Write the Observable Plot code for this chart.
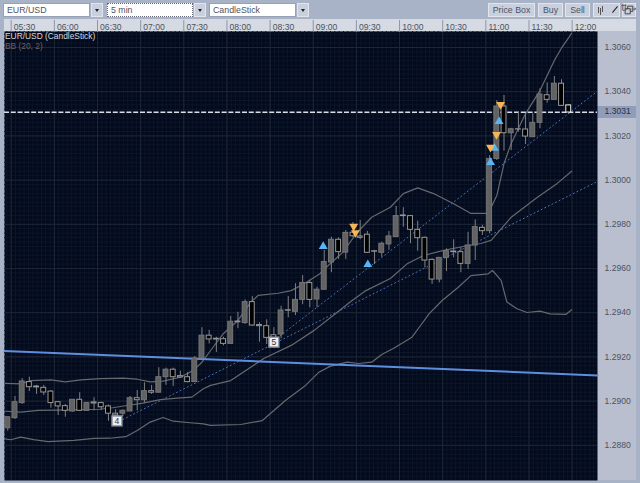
<!DOCTYPE html>
<html>
<head>
<meta charset="utf-8">
<script src="https://cdn.jsdelivr.net/npm/d3@7"></script>
<script src="https://cdn.jsdelivr.net/npm/@observablehq/plot@0.6"></script>
<style>
html,body{margin:0;padding:0;background:#a9b3c7;overflow:hidden}
body{width:640px;height:483px;position:relative;font-family:"Liberation Sans",Arial,sans-serif;font-size:8.8px;color:#4c5462}
.b{position:absolute;box-sizing:border-box;line-height:13px;white-space:nowrap}
.sel{background:#fff;border:1px solid #98a2b6;padding-left:3px;top:3px;height:14px}
.btn{background:#c9cfdc;border:1px solid #e2e5ec;top:3px;height:14px;text-align:center}
.ico{position:absolute;box-sizing:border-box}
#chart{position:absolute;left:0;top:0}
</style>
</head>
<body>
<div class="b" style="left:4px;top:19px;width:632px;height:12px;background:#d6dae3"></div>
<div class="b" style="left:597px;top:31px;width:39px;height:449px;background:#b9bfcf"></div>
<div class="b" style="left:597px;top:106px;width:39px;height:12px;background:#8f9cba"></div>
<div class="b sel" style="left:3px;width:87px">EUR/USD</div><div class="b btn" style="left:91px;width:12px"><div class="ico" style="left:3px;top:5px;border-left:2.5px solid transparent;border-right:2.5px solid transparent;border-top:3px solid #222"></div></div>
<div class="b sel" style="left:107px;width:86px;border:1px dotted #667">5 min</div><div class="b btn" style="left:194px;width:12px"><div class="ico" style="left:3px;top:5px;border-left:2.5px solid transparent;border-right:2.5px solid transparent;border-top:3px solid #222"></div></div>
<div class="b sel" style="left:209px;width:87px">CandleStick</div><div class="b btn" style="left:297px;width:12px"><div class="ico" style="left:3px;top:5px;border-left:2.5px solid transparent;border-right:2.5px solid transparent;border-top:3px solid #222"></div></div>
<div class="b btn" style="left:488px;width:47px">Price Box</div>
<div class="b btn" style="left:538px;width:25px">Buy</div>
<div class="b btn" style="left:565px;width:25px">Sell</div>
<div class="b btn" style="left:593px;width:27px">
  <div class="ico" style="left:4px;top:3px;width:1px;height:6px;background:#555"></div>
  <div class="ico" style="left:6px;top:4px;width:1px;height:7px;background:#555"></div>
  <div class="ico" style="left:8px;top:2px;width:1px;height:6px;background:#555"></div>
  <div class="ico" style="left:19px;top:5px;width:8px;height:1px;margin-left:-2px;background:#222;transform:rotate(-50deg)"></div>
</div>
<svg class="b" style="left:622px;top:3px;background:#c9cfdc;border:1px solid #e2e5ec" width="14" height="14" viewBox="0 0 14 14"><path d="M5.5 6V2.5H11.5V8.5H8.5M2.5 5.5H8.5V11.5H2.5Z" fill="none" stroke="#333" stroke-width="1"/></svg>
<div id="chart"></div>
<div class="b" style="left:5px;top:30px;color:#d8d8d8;font-size:8.4px">EUR/USD (CandleStick)</div>
<div class="b" style="left:5px;top:40px;color:#666;font-size:8.4px">BB (20, 2)</div>
<script>
const tickMinutes = [0,30,60,90,120,150,180,210,240,270,300,330,360,390];
const tickLabels = ["05:30","06:00","06:30","07:00","07:30","08:00","08:30","09:00","09:30","10:00","10:30","11:00","11:30","12:00"];
const priceTicks = [1.306,1.304,1.302,1.3,1.298,1.296,1.294,1.292,1.29,1.288];
const currentPrice = 1.3031;

const open = [1.28877,1.28923,1.28991,1.29086,1.29066,1.29060,1.29043,1.28995,1.28977,1.28953,1.29006,1.28956,1.28994,1.28991,1.28976,1.28943,1.28943,1.28953,1.29013,1.29004,1.29045,1.29038,1.29108,1.29142,1.29113,1.29108,1.29086,1.29193,1.29296,1.29282,1.29280,1.29259,1.29360,1.29353,1.29448,1.29344,1.29339,1.29298,1.29301,1.29411,1.29404,1.29458,1.29534,1.29460,1.29504,1.29627,1.29730,1.29672,1.29762,1.29745,1.29753,1.29678,1.29671,1.29709,1.29742,1.29840,1.29837,1.29775,1.29739,1.29639,1.29550,1.29648,1.29677,1.29674,1.29621,1.29704,1.29784,1.29769,1.30096,1.30333,1.30212,1.30230,1.30229,1.30194,1.30259,1.30384,1.30363,1.30436,1.30338];
const high = [1.28927,1.29021,1.29102,1.29108,1.29071,1.29071,1.29048,1.28998,1.28985,1.29007,1.29038,1.28994,1.29015,1.28995,1.28982,1.28961,1.28961,1.29021,1.29048,1.29083,1.29071,1.29151,1.29149,1.29149,1.29135,1.29129,1.29202,1.29332,1.29320,1.29289,1.29289,1.29383,1.29402,1.29458,1.29473,1.29354,1.29368,1.29332,1.29429,1.29473,1.29531,1.29568,1.29546,1.29515,1.29682,1.29742,1.29739,1.29772,1.29808,1.29817,1.29768,1.29682,1.29719,1.29768,1.29881,1.29875,1.29840,1.29814,1.29742,1.29644,1.29650,1.29689,1.29730,1.29694,1.29764,1.29820,1.29795,1.30111,1.30360,1.30383,1.30234,1.30307,1.30300,1.30300,1.30413,1.30440,1.30469,1.30454,1.30341];
const low = [1.28864,1.28917,1.28985,1.29043,1.29030,1.29025,1.28968,1.28935,1.28927,1.28950,1.28953,1.28953,1.28956,1.28958,1.28909,1.28926,1.28930,1.28953,1.28956,1.28991,1.29030,1.29038,1.29071,1.29066,1.29104,1.29083,1.29086,1.29193,1.29259,1.29220,1.29250,1.29256,1.29327,1.29347,1.29339,1.29267,1.29256,1.29252,1.29282,1.29377,1.29387,1.29436,1.29422,1.29422,1.29504,1.29581,1.29641,1.29641,1.29740,1.29730,1.29669,1.29618,1.29651,1.29682,1.29742,1.29787,1.29712,1.29678,1.29603,1.29528,1.29535,1.29586,1.29648,1.29581,1.29596,1.29636,1.29749,1.29757,1.30089,1.30131,1.30134,1.30217,1.30161,1.30194,1.30232,1.30348,1.30363,1.30333,1.30297];
const close = [1.28927,1.28995,1.29089,1.29063,1.29062,1.29039,1.28991,1.28976,1.28956,1.29006,1.28956,1.28991,1.28989,1.28972,1.28943,1.28935,1.28956,1.29013,1.29004,1.29045,1.29038,1.29108,1.29142,1.29108,1.29107,1.29086,1.29193,1.29296,1.29279,1.29279,1.29259,1.29359,1.29357,1.29448,1.29342,1.29339,1.29286,1.29283,1.29410,1.29409,1.29458,1.29534,1.29458,1.29504,1.29629,1.29730,1.29674,1.29761,1.29746,1.29739,1.29671,1.29676,1.29712,1.29745,1.29837,1.29837,1.29775,1.29737,1.29636,1.29550,1.29648,1.29678,1.29674,1.29621,1.29704,1.29787,1.29769,1.30096,1.30333,1.30212,1.30230,1.30229,1.30197,1.30259,1.30387,1.30363,1.30436,1.30336,1.30306];

const upperMinutes = [-2,9,16,30,40,51,64,80,90,99,108,120,129,135,141,150,160,169,174,188,197,206,217,219,233,243,253,266,275,285,296,310,322,334,340,345,350,360,370,380,385,390,392];
const upperPrices = [1.29080,1.29078,1.29093,1.29096,1.29087,1.29096,1.29102,1.29104,1.29099,1.29087,1.29090,1.29108,1.29139,1.29176,1.29229,1.29306,1.29365,1.29448,1.29478,1.29488,1.29500,1.29531,1.29576,1.29591,1.29674,1.29764,1.29832,1.29877,1.29939,1.29965,1.29939,1.29893,1.29849,1.29849,1.29930,1.30075,1.30166,1.30301,1.30405,1.30541,1.30598,1.30645,1.30665];
const middleMinutes = [-2,9,21,35,51,64,73,83,94,106,118,128,136,141,155,178,197,213,228,238,249,266,278,289,303,320,329,336,350,368,382,392];
const middlePrices = [1.28954,1.28950,1.28958,1.28959,1.28961,1.28963,1.28970,1.28980,1.28991,1.29007,1.29013,1.29018,1.29056,1.29071,1.29093,1.29193,1.29252,1.29320,1.29396,1.29448,1.29500,1.29555,1.29623,1.29659,1.29682,1.29704,1.29713,1.29727,1.29832,1.29921,1.29985,1.30040];
const lowerMinutes = [-2,2,9,18,28,35,46,60,71,82,90,99,108,115,127,136,141,162,177,193,207,216,224,236,244,253,260,268,281,287,293,302,313,322,334,337,343,347,354,361,370,377,388,392];
const lowerPrices = [1.28829,1.28825,1.28837,1.28826,1.28817,1.28819,1.28822,1.28831,1.28832,1.28839,1.28867,1.28905,1.28926,1.28909,1.28902,1.28897,1.28890,1.28894,1.28912,1.29003,1.29071,1.29129,1.29157,1.29176,1.29170,1.29176,1.29211,1.29238,1.29289,1.29342,1.29396,1.29455,1.29514,1.29568,1.29576,1.29591,1.29546,1.29448,1.29418,1.29401,1.29407,1.29395,1.29392,1.29413];

const trendFromFour = [[80,1.28917],[410,1.29994]];
const trendFromFive = [[185,1.29274],[410,1.30402]];
const longTrend = [[-2.3,1.29227],[410,1.29116]];

const buyMinutes = [219.3,250.3,335.6,338.4,341.6];
const buyPrices = [1.29700,1.29618,1.30080,1.30144,1.30265];
const sellMinutes = [240.5,241.7,335.6,339.8,342.6];
const sellPrices = [1.29791,1.29762,1.30148,1.30206,1.30342];
const noteMinutes = [75.9,185];
const notePrices = [1.28910,1.29267];
const noteLabels = ["4","5"];

const candles = open.map((o,i)=>({t:i*5,o,h:high[i],l:low[i],c:close[i],last:i===open.length-1}));
const pts = (xs,ys)=>xs.map((x,i)=>[x,ys[i]]);
const xOff = 3.4, axisInk = "#4c5462", axisFont = {fontSize:8.6, fontFamily:"Liberation Sans"};
const lineStyle = {stroke:"#66696d", strokeWidth:1.2};
const dotted = {stroke:"#4a74c0", strokeWidth:1, strokeDasharray:"1,3"};

const chart = Plot.plot({
  width:640, height:483,
  marginTop:31, marginLeft:4, marginRight:43, marginBottom:3,
  style:{background:"transparent", overflow:"visible"},
  x:{domain:[-2.29,410], range:[4,597], axis:null},
  y:{domain:[1.286407,1.306724], range:[480,31], axis:null},
  marks:[
    Plot.frame({fill:"#030a1c", stroke:null}),
    Plot.ruleX(d3.range(-3,408,3),{dx:xOff, stroke:"#0c1629", strokeWidth:1}),
    Plot.ruleY(d3.range(12866,13068,2).map(v=>v/10000),{stroke:"#0c1629", strokeWidth:1}),
    Plot.ruleX(tickMinutes,{dx:xOff, stroke:"#1e2736", strokeWidth:1}),
    Plot.ruleY(priceTicks,{stroke:"#1e2736", strokeWidth:1}),
    Plot.axisX(tickMinutes,{anchor:"top", dx:xOff, tickSize:12, stroke:"#8e97a8", tickFormat:()=>""}),
    Plot.axisX(tickMinutes,{anchor:"top", dx:6, tickSize:0, tickPadding:2, fill:axisInk, textAnchor:"start", ...axisFont,
      tickFormat:d=>tickLabels[tickMinutes.indexOf(d)]}),
    Plot.axisY(priceTicks,{anchor:"right", tickSize:0, tickPadding:7, fill:axisInk, ...axisFont, tickFormat:d3.format(".4f")}),
    Plot.axisY([currentPrice],{anchor:"right", tickSize:0, tickPadding:7, fill:"#2c3340", ...axisFont, tickFormat:d3.format(".4f")}),
    Plot.line(pts(upperMinutes,upperPrices),lineStyle),
    Plot.line(pts(middleMinutes,middlePrices),lineStyle),
    Plot.line(pts(lowerMinutes,lowerPrices),lineStyle),
    Plot.line(trendFromFour,dotted),
    Plot.line(trendFromFive,dotted),
    Plot.line(longTrend,{stroke:"#5f8ee0", strokeWidth:2}),
    Plot.ruleY([currentPrice],{dy:0.6, stroke:"#d8dde8", strokeWidth:1.5, strokeDasharray:"5,1.8"}),
    Plot.ruleX(candles,{x:"t", y1:"l", y2:"h", stroke:"#808080", strokeWidth:1}),
    Plot.rect(candles,{x1:d=>d.t-1.7, x2:d=>d.t+1.7, y1:"o", y2:"c",
      fill:d=>d.c>=d.o?"#626262":"#000", stroke:d=>d.last?"#e8e8e8":d.c>=d.o?"#767676":"#989898", strokeWidth:1}),
    Plot.dot(pts(buyMinutes,buyPrices),{symbol:"triangle", r:3.3, fill:"#58b4f4", stroke:null}),
    Plot.dot(pts(sellMinutes,sellPrices),{symbol:"triangle", r:3.3, rotate:180, fill:"#f6b556", stroke:null}),
    Plot.dot(pts(noteMinutes,notePrices),{symbol:"square", r:5.5, fill:"#eef0f4", stroke:"#9aa0a8"}),
    Plot.text(noteLabels,{x:(d,i)=>noteMinutes[i], y:(d,i)=>notePrices[i], fill:"#333", ...axisFont})
  ]
});
document.getElementById("chart").appendChild(chart);
</script>
</body>
</html>
